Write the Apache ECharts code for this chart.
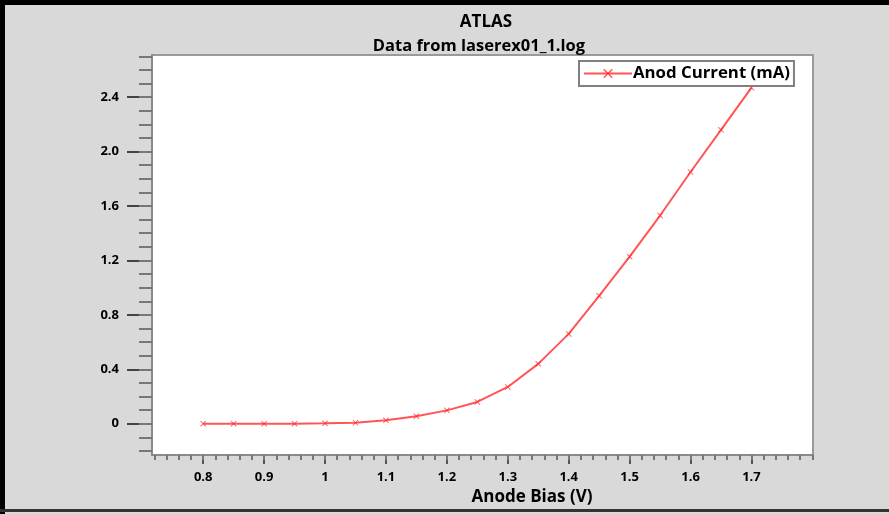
<!DOCTYPE html>
<html>
<head>
<meta charset="utf-8">
<script src="https://cdn.jsdelivr.net/npm/echarts@6/dist/echarts.min.js"></script>
<style>
html,body{margin:0;padding:0;background:#d9d9d9;}
#chart{width:889px;height:514px;}
</style>
</head>
<body>
<div id="chart"></div>
<script>
// ---- data ----
var biasV = [0.8, 0.85, 0.9, 0.95, 1.0, 1.05, 1.1, 1.15, 1.2, 1.25, 1.3, 1.35, 1.4, 1.45, 1.5, 1.55, 1.6, 1.65, 1.7];
var anodeCurrent = [0, 0, 0, 0, 0.003, 0.007, 0.025, 0.055, 0.098, 0.16, 0.27, 0.44, 0.66, 0.94, 1.228, 1.53, 1.85, 2.16, 2.47];
var xTickValues = [0.8, 0.9, 1, 1.1, 1.2, 1.3, 1.4, 1.5, 1.6, 1.7];
var xTickLabels = ['0.8', '0.9', '1', '1.1', '1.2', '1.3', '1.4', '1.5', '1.6', '1.7'];
var yTickValues = [0, 0.4, 0.8, 1.2, 1.6, 2.0, 2.4];
var yTickLabels = ['0', '0.4', '0.8', '1.2', '1.6', '2.0', '2.4'];
var seriesName = 'Anod Current (mA)';
var titleText = 'ATLAS';
var subtitleText = 'Data from laserex01_1.log';
var xAxisName = 'Anode Bias (V)';

var xMin = 0.716, xMax = 1.801, yMin = -0.23, yMax = 2.71;

function range(a, b, step, dec) {
  var out = [];
  var f = Math.pow(10, dec);
  for (var v = a; v <= b + 1e-9; v += step) out.push(Math.round(v * f) / f);
  return out;
}
var xMinor = range(0.72, 1.80, 0.02, 2);
var yMinor = range(-0.2, 2.7, 0.1, 1);

function labelFor(values, labels) {
  return function (v) {
    for (var i = 0; i < values.length; i++) if (Math.abs(values[i] - v) < 1e-6) return labels[i];
    return '';
  };
}

var FONT = '"Open Sans", "Liberation Sans", sans-serif';
var chart = echarts.init(document.getElementById('chart'));
var data = biasV.map(function (x, i) { return [x, anodeCurrent[i]]; });
var xSymbol = 'path://M0,1 L1,0 L5,4 L9,0 L10,1 L6,5 L10,9 L9,10 L5,6 L1,10 L0,9 L4,5 Z';

chart.setOption({
  backgroundColor: '#d9d9d9',
  animation: false,
  graphic: [
    { type: 'rect', shape: { x: 0, y: 0, width: 889, height: 5 }, style: { fill: '#000' }, z: 100 },
    { type: 'rect', shape: { x: 0, y: 0, width: 5, height: 514 }, style: { fill: '#000' }, z: 100 },
    { type: 'rect', shape: { x: 0, y: 509, width: 889, height: 3 }, style: { fill: '#333' }, z: 100 }
  ],
  title: [
    { text: titleText, left: 481, textAlign: 'center', top: 9, textStyle: { fontFamily: FONT, fontSize: 17, fontWeight: 'bold', color: '#000' } },
    { text: subtitleText, left: 474, textAlign: 'center', top: 33, textStyle: { fontFamily: FONT, fontSize: 16.5, fontWeight: 'bold', color: '#000' } }
  ],
  legend: {
    left: 579, top: 61,
    backgroundColor: '#fff',
    borderColor: '#808080', borderWidth: 2,
    padding: [4, 4, 4, 4],
    itemWidth: 48, itemHeight: 12, itemGap: 4,
    textStyle: { fontFamily: FONT, fontSize: 16.8, fontWeight: 'bold', color: '#000', padding: [0, 0, 0, -4] },
    data: [seriesName]
  },
  grid: {
    left: 152, top: 55, right: 76, bottom: 59,
    show: true, backgroundColor: '#fff', borderColor: '#9a9a9a', borderWidth: 2,
    containLabel: false
  },
  xAxis: [
    {
      type: 'value', min: xMin, max: xMax,
      name: xAxisName, nameLocation: 'middle', nameGap: 33,
      nameTextStyle: { fontFamily: FONT, fontSize: 17, fontWeight: 'bold', color: '#000', padding: [0, 0, 0, 99] },
      axisLine: { show: true, onZero: false, lineStyle: { color: '#8a8a8a', width: 2 } },
      axisTick: { show: true, customValues: xTickValues, length: 9, lineStyle: { color: '#555', width: 2 } },
      axisLabel: { customValues: xTickValues, formatter: labelFor(xTickValues, xTickLabels), margin: 16,
        fontFamily: FONT, fontSize: 13, fontWeight: 'bold', color: '#000' },
      splitLine: { show: false }
    },
    {
      type: 'value', min: xMin, max: xMax, position: 'bottom',
      axisLine: { show: false, onZero: false },
      axisTick: { show: true, customValues: xMinor, length: 5, lineStyle: { color: '#777', width: 2 } },
      axisLabel: { show: false },
      splitLine: { show: false }
    }
  ],
  yAxis: [
    {
      type: 'value', min: yMin, max: yMax,
      axisLine: { show: true, onZero: false, lineStyle: { color: '#8a8a8a', width: 2 } },
      axisTick: { show: true, customValues: yTickValues, length: 25, lineStyle: { color: '#444', width: 2 } },
      axisLabel: { customValues: yTickValues, formatter: labelFor(yTickValues, yTickLabels), margin: 33,
        fontFamily: FONT, fontSize: 13, fontWeight: 'bold', color: '#000' },
      splitLine: { show: false }
    },
    {
      type: 'value', min: yMin, max: yMax, position: 'left',
      axisLine: { show: false, onZero: false },
      axisTick: { show: true, customValues: yMinor, length: 13, lineStyle: { color: '#777', width: 2 } },
      axisLabel: { show: false },
      splitLine: { show: false }
    }
  ],
  series: [
    {
      name: seriesName, type: 'line', data: data,
      xAxisIndex: 0, yAxisIndex: 0,
      symbol: xSymbol, symbolSize: 6, showSymbol: true,
      color: '#ff2a2a',
      lineStyle: { color: '#ff2a2a', width: 2, opacity: 0.8 },
      itemStyle: { color: '#ff2a2a', opacity: 0.8 },
      z: 3
    }
  ]
});
</script>
</body>
</html>
